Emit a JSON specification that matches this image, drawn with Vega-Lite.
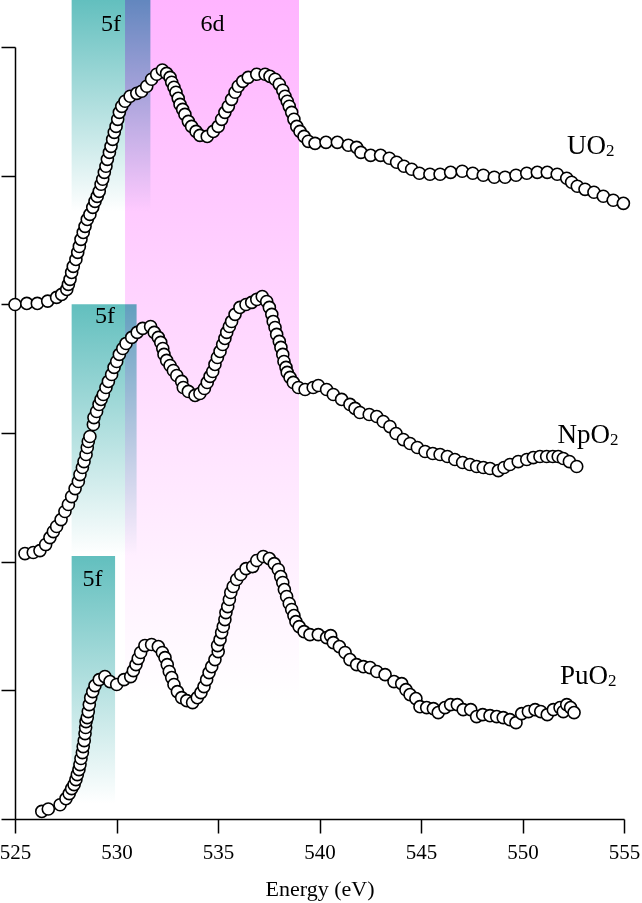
{
"$schema":"https://vega.github.io/schema/vega-lite/v6.json",
"width":609,"height":772,
"autosize":{"type":"none"},
"padding":{"left":15,"top":47,"right":18,"bottom":84},
"config":{"view":{"stroke":null},"font":"Liberation Serif"},
"datasets":{
"spec":[
{"s":"UO2","e":525.00,"i":3.999},{"s":"UO2","e":525.58,"i":4.007},{"s":"UO2","e":526.10,"i":4.007},{"s":"UO2","e":526.61,"i":4.025},{"s":"UO2","e":527.05,"i":4.054},{"s":"UO2","e":527.30,"i":4.077},{"s":"UO2","e":527.55,"i":4.116},{"s":"UO2","e":527.63,"i":4.155},{"s":"UO2","e":527.71,"i":4.194},{"s":"UO2","e":527.79,"i":4.248},{"s":"UO2","e":527.87,"i":4.295},{"s":"UO2","e":528.00,"i":4.349},{"s":"UO2","e":528.09,"i":4.404},{"s":"UO2","e":528.17,"i":4.450},{"s":"UO2","e":528.25,"i":4.505},{"s":"UO2","e":528.36,"i":4.559},{"s":"UO2","e":528.45,"i":4.606},{"s":"UO2","e":528.56,"i":4.660},{"s":"UO2","e":528.69,"i":4.699},{"s":"UO2","e":528.83,"i":4.754},{"s":"UO2","e":528.94,"i":4.800},{"s":"UO2","e":529.05,"i":4.839},{"s":"UO2","e":529.15,"i":4.878},{"s":"UO2","e":529.24,"i":4.933},{"s":"UO2","e":529.32,"i":4.972},{"s":"UO2","e":529.40,"i":5.026},{"s":"UO2","e":529.48,"i":5.073},{"s":"UO2","e":529.55,"i":5.127},{"s":"UO2","e":529.65,"i":5.181},{"s":"UO2","e":529.73,"i":5.228},{"s":"UO2","e":529.81,"i":5.282},{"s":"UO2","e":529.89,"i":5.337},{"s":"UO2","e":529.98,"i":5.383},{"s":"UO2","e":530.06,"i":5.438},{"s":"UO2","e":530.14,"i":5.492},{"s":"UO2","e":530.26,"i":5.539},{"s":"UO2","e":530.42,"i":5.578},{"s":"UO2","e":530.67,"i":5.617},{"s":"UO2","e":531.00,"i":5.640},{"s":"UO2","e":531.24,"i":5.656},{"s":"UO2","e":531.49,"i":5.695},{"s":"UO2","e":531.73,"i":5.749},{"s":"UO2","e":531.98,"i":5.788},{"s":"UO2","e":532.26,"i":5.821},{"s":"UO2","e":532.47,"i":5.795},{"s":"UO2","e":532.64,"i":5.764},{"s":"UO2","e":532.72,"i":5.726},{"s":"UO2","e":532.83,"i":5.687},{"s":"UO2","e":532.93,"i":5.648},{"s":"UO2","e":533.04,"i":5.601},{"s":"UO2","e":533.13,"i":5.554},{"s":"UO2","e":533.26,"i":5.515},{"s":"UO2","e":533.37,"i":5.476},{"s":"UO2","e":533.54,"i":5.422},{"s":"UO2","e":533.70,"i":5.383},{"s":"UO2","e":533.92,"i":5.344},{"s":"UO2","e":534.11,"i":5.313},{"s":"UO2","e":534.47,"i":5.305},{"s":"UO2","e":534.77,"i":5.344},{"s":"UO2","e":535.01,"i":5.383},{"s":"UO2","e":535.18,"i":5.438},{"s":"UO2","e":535.34,"i":5.492},{"s":"UO2","e":535.51,"i":5.539},{"s":"UO2","e":535.67,"i":5.593},{"s":"UO2","e":535.84,"i":5.648},{"s":"UO2","e":536.00,"i":5.695},{"s":"UO2","e":536.22,"i":5.733},{"s":"UO2","e":536.49,"i":5.764},{"s":"UO2","e":536.91,"i":5.788},{"s":"UO2","e":537.32,"i":5.788},{"s":"UO2","e":537.56,"i":5.772},{"s":"UO2","e":537.81,"i":5.749},{"s":"UO2","e":538.02,"i":5.710},{"s":"UO2","e":538.19,"i":5.664},{"s":"UO2","e":538.30,"i":5.617},{"s":"UO2","e":538.41,"i":5.578},{"s":"UO2","e":538.51,"i":5.539},{"s":"UO2","e":538.63,"i":5.492},{"s":"UO2","e":538.74,"i":5.438},{"s":"UO2","e":538.88,"i":5.383},{"s":"UO2","e":539.04,"i":5.344},{"s":"UO2","e":539.24,"i":5.305},{"s":"UO2","e":539.45,"i":5.267},{"s":"UO2","e":539.78,"i":5.251},{"s":"UO2","e":540.32,"i":5.259},{"s":"UO2","e":540.88,"i":5.259},{"s":"UO2","e":541.42,"i":5.236},{"s":"UO2","e":541.83,"i":5.220},{"s":"UO2","e":542.04,"i":5.181},{"s":"UO2","e":542.52,"i":5.158},{"s":"UO2","e":543.01,"i":5.158},{"s":"UO2","e":543.44,"i":5.135},{"s":"UO2","e":543.80,"i":5.104},{"s":"UO2","e":544.16,"i":5.073},{"s":"UO2","e":544.54,"i":5.050},{"s":"UO2","e":544.92,"i":5.019},{"s":"UO2","e":545.44,"i":5.011},{"s":"UO2","e":545.94,"i":5.011},{"s":"UO2","e":546.46,"i":5.026},{"s":"UO2","e":547.03,"i":5.034},{"s":"UO2","e":547.55,"i":5.019},{"s":"UO2","e":548.07,"i":5.003},{"s":"UO2","e":548.61,"i":4.988},{"s":"UO2","e":549.14,"i":4.988},{"s":"UO2","e":549.68,"i":5.003},{"s":"UO2","e":550.21,"i":5.019},{"s":"UO2","e":550.73,"i":5.026},{"s":"UO2","e":551.22,"i":5.026},{"s":"UO2","e":551.71,"i":5.011},{"s":"UO2","e":552.18,"i":4.980},{"s":"UO2","e":552.42,"i":4.949},{"s":"UO2","e":552.70,"i":4.918},{"s":"UO2","e":553.08,"i":4.894},{"s":"UO2","e":553.52,"i":4.871},{"s":"UO2","e":553.98,"i":4.840},{"s":"UO2","e":554.47,"i":4.809},{"s":"UO2","e":554.97,"i":4.785},
{"s":"NpO2","e":525.49,"i":2.063},{"s":"NpO2","e":525.90,"i":2.071},{"s":"NpO2","e":526.23,"i":2.086},{"s":"NpO2","e":526.51,"i":2.133},{"s":"NpO2","e":526.72,"i":2.187},{"s":"NpO2","e":526.89,"i":2.234},{"s":"NpO2","e":527.05,"i":2.273},{"s":"NpO2","e":527.27,"i":2.327},{"s":"NpO2","e":527.46,"i":2.390},{"s":"NpO2","e":527.63,"i":2.444},{"s":"NpO2","e":527.79,"i":2.506},{"s":"NpO2","e":527.96,"i":2.568},{"s":"NpO2","e":528.12,"i":2.623},{"s":"NpO2","e":528.20,"i":2.677},{"s":"NpO2","e":528.32,"i":2.732},{"s":"NpO2","e":528.40,"i":2.778},{"s":"NpO2","e":528.50,"i":2.833},{"s":"NpO2","e":528.56,"i":2.887},{"s":"NpO2","e":528.61,"i":2.934},{"s":"NpO2","e":528.69,"i":2.973},{"s":"NpO2","e":528.86,"i":3.066},{"s":"NpO2","e":528.89,"i":3.120},{"s":"NpO2","e":529.02,"i":3.167},{"s":"NpO2","e":529.14,"i":3.222},{"s":"NpO2","e":529.24,"i":3.261},{"s":"NpO2","e":529.35,"i":3.299},{"s":"NpO2","e":529.48,"i":3.354},{"s":"NpO2","e":529.60,"i":3.401},{"s":"NpO2","e":529.76,"i":3.455},{"s":"NpO2","e":529.88,"i":3.510},{"s":"NpO2","e":530.01,"i":3.556},{"s":"NpO2","e":530.14,"i":3.611},{"s":"NpO2","e":530.31,"i":3.657},{"s":"NpO2","e":530.47,"i":3.696},{"s":"NpO2","e":530.75,"i":3.743},{"s":"NpO2","e":531.02,"i":3.782},{"s":"NpO2","e":531.29,"i":3.813},{"s":"NpO2","e":531.68,"i":3.828},{"s":"NpO2","e":531.86,"i":3.782},{"s":"NpO2","e":532.06,"i":3.743},{"s":"NpO2","e":532.18,"i":3.704},{"s":"NpO2","e":532.28,"i":3.657},{"s":"NpO2","e":532.34,"i":3.611},{"s":"NpO2","e":532.47,"i":3.564},{"s":"NpO2","e":532.64,"i":3.525},{"s":"NpO2","e":532.80,"i":3.486},{"s":"NpO2","e":532.97,"i":3.447},{"s":"NpO2","e":533.21,"i":3.401},{"s":"NpO2","e":533.29,"i":3.354},{"s":"NpO2","e":533.54,"i":3.323},{"s":"NpO2","e":533.87,"i":3.292},{"s":"NpO2","e":534.11,"i":3.307},{"s":"NpO2","e":534.33,"i":3.346},{"s":"NpO2","e":534.47,"i":3.393},{"s":"NpO2","e":534.61,"i":3.440},{"s":"NpO2","e":534.74,"i":3.478},{"s":"NpO2","e":534.85,"i":3.533},{"s":"NpO2","e":534.97,"i":3.587},{"s":"NpO2","e":535.10,"i":3.634},{"s":"NpO2","e":535.23,"i":3.688},{"s":"NpO2","e":535.34,"i":3.735},{"s":"NpO2","e":535.43,"i":3.782},{"s":"NpO2","e":535.56,"i":3.828},{"s":"NpO2","e":535.67,"i":3.867},{"s":"NpO2","e":535.84,"i":3.922},{"s":"NpO2","e":536.08,"i":3.976},{"s":"NpO2","e":536.38,"i":3.999},{"s":"NpO2","e":536.66,"i":4.015},{"s":"NpO2","e":536.91,"i":4.038},{"s":"NpO2","e":537.18,"i":4.061},{"s":"NpO2","e":537.40,"i":4.022},{"s":"NpO2","e":537.53,"i":3.976},{"s":"NpO2","e":537.65,"i":3.922},{"s":"NpO2","e":537.72,"i":3.867},{"s":"NpO2","e":537.81,"i":3.820},{"s":"NpO2","e":537.89,"i":3.766},{"s":"NpO2","e":538.02,"i":3.712},{"s":"NpO2","e":538.10,"i":3.665},{"s":"NpO2","e":538.19,"i":3.611},{"s":"NpO2","e":538.25,"i":3.556},{"s":"NpO2","e":538.35,"i":3.510},{"s":"NpO2","e":538.41,"i":3.471},{"s":"NpO2","e":538.55,"i":3.432},{"s":"NpO2","e":538.71,"i":3.393},{"s":"NpO2","e":538.96,"i":3.354},{"s":"NpO2","e":539.29,"i":3.338},{"s":"NpO2","e":539.69,"i":3.354},{"s":"NpO2","e":539.94,"i":3.369},{"s":"NpO2","e":540.35,"i":3.338},{"s":"NpO2","e":540.68,"i":3.299},{"s":"NpO2","e":541.09,"i":3.261},{"s":"NpO2","e":541.50,"i":3.222},{"s":"NpO2","e":541.75,"i":3.191},{"s":"NpO2","e":541.99,"i":3.159},{"s":"NpO2","e":542.45,"i":3.144},{"s":"NpO2","e":542.82,"i":3.128},{"s":"NpO2","e":543.14,"i":3.089},{"s":"NpO2","e":543.47,"i":3.050},{"s":"NpO2","e":543.77,"i":2.996},{"s":"NpO2","e":544.13,"i":2.949},{"s":"NpO2","e":544.46,"i":2.918},{"s":"NpO2","e":544.82,"i":2.887},{"s":"NpO2","e":545.20,"i":2.856},{"s":"NpO2","e":545.58,"i":2.841},{"s":"NpO2","e":545.94,"i":2.833},{"s":"NpO2","e":546.30,"i":2.817},{"s":"NpO2","e":546.67,"i":2.794},{"s":"NpO2","e":547.05,"i":2.771},{"s":"NpO2","e":547.41,"i":2.755},{"s":"NpO2","e":547.74,"i":2.740},{"s":"NpO2","e":548.07,"i":2.732},{"s":"NpO2","e":548.40,"i":2.724},{"s":"NpO2","e":548.81,"i":2.708},{"s":"NpO2","e":549.09,"i":2.732},{"s":"NpO2","e":549.38,"i":2.755},{"s":"NpO2","e":549.79,"i":2.778},{"s":"NpO2","e":550.21,"i":2.794},{"s":"NpO2","e":550.53,"i":2.809},{"s":"NpO2","e":550.86,"i":2.817},{"s":"NpO2","e":551.19,"i":2.817},{"s":"NpO2","e":551.49,"i":2.817},{"s":"NpO2","e":551.76,"i":2.817},{"s":"NpO2","e":552.01,"i":2.802},{"s":"NpO2","e":552.31,"i":2.778},{"s":"NpO2","e":552.67,"i":2.740},
{"s":"PuO2","e":526.32,"i":0.059},{"s":"PuO2","e":526.64,"i":0.078},{"s":"PuO2","e":527.22,"i":0.111},{"s":"PuO2","e":527.51,"i":0.158},{"s":"PuO2","e":527.67,"i":0.197},{"s":"PuO2","e":527.79,"i":0.236},{"s":"PuO2","e":527.91,"i":0.267},{"s":"PuO2","e":528.00,"i":0.306},{"s":"PuO2","e":528.07,"i":0.345},{"s":"PuO2","e":528.15,"i":0.384},{"s":"PuO2","e":528.20,"i":0.423},{"s":"PuO2","e":528.25,"i":0.470},{"s":"PuO2","e":528.32,"i":0.516},{"s":"PuO2","e":528.36,"i":0.563},{"s":"PuO2","e":528.41,"i":0.609},{"s":"PuO2","e":528.45,"i":0.664},{"s":"PuO2","e":528.48,"i":0.711},{"s":"PuO2","e":528.50,"i":0.757},{"s":"PuO2","e":528.56,"i":0.788},{"s":"PuO2","e":528.61,"i":0.835},{"s":"PuO2","e":528.66,"i":0.889},{"s":"PuO2","e":528.73,"i":0.943},{"s":"PuO2","e":528.83,"i":0.990},{"s":"PuO2","e":528.94,"i":1.037},{"s":"PuO2","e":529.15,"i":1.083},{"s":"PuO2","e":529.43,"i":1.107},{"s":"PuO2","e":529.68,"i":1.068},{"s":"PuO2","e":530.01,"i":1.045},{"s":"PuO2","e":530.37,"i":1.083},{"s":"PuO2","e":530.70,"i":1.107},{"s":"PuO2","e":530.83,"i":1.153},{"s":"PuO2","e":530.96,"i":1.200},{"s":"PuO2","e":531.07,"i":1.247},{"s":"PuO2","e":531.19,"i":1.294},{"s":"PuO2","e":531.40,"i":1.348},{"s":"PuO2","e":531.73,"i":1.356},{"s":"PuO2","e":532.06,"i":1.340},{"s":"PuO2","e":532.26,"i":1.294},{"s":"PuO2","e":532.39,"i":1.254},{"s":"PuO2","e":532.50,"i":1.200},{"s":"PuO2","e":532.60,"i":1.146},{"s":"PuO2","e":532.72,"i":1.099},{"s":"PuO2","e":532.83,"i":1.045},{"s":"PuO2","e":533.00,"i":0.990},{"s":"PuO2","e":533.21,"i":0.943},{"s":"PuO2","e":533.46,"i":0.920},{"s":"PuO2","e":533.75,"i":0.905},{"s":"PuO2","e":533.98,"i":0.943},{"s":"PuO2","e":534.16,"i":0.982},{"s":"PuO2","e":534.31,"i":1.029},{"s":"PuO2","e":534.44,"i":1.083},{"s":"PuO2","e":534.56,"i":1.138},{"s":"PuO2","e":534.69,"i":1.184},{"s":"PuO2","e":534.85,"i":1.239},{"s":"PuO2","e":535.01,"i":1.301},{"s":"PuO2","e":534.98,"i":1.348},{"s":"PuO2","e":535.10,"i":1.394},{"s":"PuO2","e":535.18,"i":1.449},{"s":"PuO2","e":535.26,"i":1.496},{"s":"PuO2","e":535.34,"i":1.550},{"s":"PuO2","e":535.39,"i":1.604},{"s":"PuO2","e":535.48,"i":1.651},{"s":"PuO2","e":535.56,"i":1.706},{"s":"PuO2","e":535.63,"i":1.760},{"s":"PuO2","e":535.75,"i":1.807},{"s":"PuO2","e":535.92,"i":1.861},{"s":"PuO2","e":536.12,"i":1.900},{"s":"PuO2","e":536.38,"i":1.946},{"s":"PuO2","e":536.71,"i":1.962},{"s":"PuO2","e":536.91,"i":2.009},{"s":"PuO2","e":537.23,"i":2.040},{"s":"PuO2","e":537.53,"i":2.024},{"s":"PuO2","e":537.77,"i":1.985},{"s":"PuO2","e":537.97,"i":1.939},{"s":"PuO2","e":538.09,"i":1.884},{"s":"PuO2","e":538.19,"i":1.838},{"s":"PuO2","e":538.27,"i":1.783},{"s":"PuO2","e":538.38,"i":1.729},{"s":"PuO2","e":538.51,"i":1.675},{"s":"PuO2","e":538.63,"i":1.628},{"s":"PuO2","e":538.74,"i":1.581},{"s":"PuO2","e":538.84,"i":1.534},{"s":"PuO2","e":539.00,"i":1.495},{"s":"PuO2","e":539.24,"i":1.456},{"s":"PuO2","e":539.53,"i":1.433},{"s":"PuO2","e":539.94,"i":1.433},{"s":"PuO2","e":540.35,"i":1.410},{"s":"PuO2","e":540.55,"i":1.425},{"s":"PuO2","e":540.68,"i":1.371},{"s":"PuO2","e":540.98,"i":1.340},{"s":"PuO2","e":541.26,"i":1.294},{"s":"PuO2","e":541.50,"i":1.239},{"s":"PuO2","e":541.83,"i":1.200},{"s":"PuO2","e":542.16,"i":1.184},{"s":"PuO2","e":542.49,"i":1.177},{"s":"PuO2","e":542.82,"i":1.146},{"s":"PuO2","e":543.23,"i":1.122},{"s":"PuO2","e":543.67,"i":1.068},{"s":"PuO2","e":544.05,"i":1.052},{"s":"PuO2","e":544.26,"i":1.005},{"s":"PuO2","e":544.46,"i":0.967},{"s":"PuO2","e":544.75,"i":0.936},{"s":"PuO2","e":544.95,"i":0.873},{"s":"PuO2","e":545.28,"i":0.866},{"s":"PuO2","e":545.61,"i":0.858},{"s":"PuO2","e":545.85,"i":0.827},{"s":"PuO2","e":546.18,"i":0.866},{"s":"PuO2","e":546.46,"i":0.889},{"s":"PuO2","e":546.79,"i":0.889},{"s":"PuO2","e":547.08,"i":0.850},{"s":"PuO2","e":547.45,"i":0.850},{"s":"PuO2","e":547.74,"i":0.796},{"s":"PuO2","e":548.04,"i":0.811},{"s":"PuO2","e":548.40,"i":0.803},{"s":"PuO2","e":548.73,"i":0.796},{"s":"PuO2","e":549.05,"i":0.788},{"s":"PuO2","e":549.38,"i":0.772},{"s":"PuO2","e":549.68,"i":0.749},{"s":"PuO2","e":549.96,"i":0.819},{"s":"PuO2","e":550.29,"i":0.835},{"s":"PuO2","e":550.62,"i":0.850},{"s":"PuO2","e":550.90,"i":0.835},{"s":"PuO2","e":551.22,"i":0.811},{"s":"PuO2","e":551.52,"i":0.850},{"s":"PuO2","e":551.85,"i":0.866},{"s":"PuO2","e":552.01,"i":0.835},{"s":"PuO2","e":552.18,"i":0.889},{"s":"PuO2","e":552.37,"i":0.866},{"s":"PuO2","e":552.54,"i":0.827}
],
"d6":[{"e1":530.42,"e2":538.99,"y1":6.37,"y2":0.9}],
"f5":[{"e1":527.79,"e2":531.67,"y1":6.37,"y2":4.72},{"e1":527.79,"e2":530.99,"y1":4.0,"y2":2.05},{"e1":527.79,"e2":529.93,"y1":2.045,"y2":0.12}],
"bandlab":[{"e":529.73,"y":6.176,"t":"5f"},{"e":534.73,"y":6.176,"t":"6d"},{"e":529.43,"y":3.908,"t":"5f"},{"e":528.82,"y":1.869,"t":"5f"}],
"samplab":[{"e":554.11,"y":5.166,"m":"UO","sub":"2"},{"e":554.31,"y":2.926,"m":"NpO","sub":"2"},{"e":554.21,"y":1.052,"m":"PuO","sub":"2"}]
},
"layer":[
{"data":{"name":"d6"},
 "mark":{"type":"rect","fill":{"gradient":"linear","x1":0,"y1":0,"x2":0,"y2":1,"stops":[{"offset":0,"color":"#ffb4ff"},{"offset":1,"color":"#ffffff"}]}},
 "encoding":{"x":{"field":"e1","type":"quantitative","scale":{"domain":[525,555],"nice":false,"zero":false},
   "axis":{"values":[525,530,535,540,545,550,555],"title":"Energy (eV)","grid":false,"domainColor":"black","domainWidth":1.5,"tickColor":"black","tickWidth":1.5,"tickSize":14,"labelFont":"Liberation Serif","labelFontSize":21,"labelColor":"black","labelPadding":8,"labelFlush":false,"titleFont":"Liberation Serif","titleFontSize":22,"titleFontWeight":"normal","titleColor":"black","titlePadding":16}},
  "x2":{"field":"e2"},
  "y":{"field":"y1","type":"quantitative","scale":{"domain":[0,6],"nice":false,"zero":false},
   "axis":{"values":[0,1,2,3,4,5,6],"labels":false,"title":null,"grid":false,"domainColor":"black","domainWidth":1.5,"tickColor":"black","tickWidth":1.5,"tickSize":14}},
  "y2":{"field":"y2"}}},
{"data":{"name":"f5"},
 "mark":{"type":"rect","blend":"multiply","fill":{"gradient":"linear","x1":0,"y1":0,"x2":0,"y2":1,"stops":[{"offset":0,"color":"#62bfbe"},{"offset":1,"color":"#ffffff"}]}},
 "encoding":{"x":{"field":"e1","type":"quantitative"},"x2":{"field":"e2"},"y":{"field":"y1","type":"quantitative"},"y2":{"field":"y2"}}},
{"data":{"name":"bandlab"},
 "mark":{"type":"text","font":"Liberation Serif","fontSize":24,"color":"black","align":"center","baseline":"middle"},
 "encoding":{"x":{"field":"e","type":"quantitative"},"y":{"field":"y","type":"quantitative"},"text":{"field":"t"}}},
{"data":{"name":"spec"},
 "mark":{"type":"circle","fill":"white","stroke":"black","strokeWidth":1.6,"size":145,"opacity":1},
 "encoding":{"x":{"field":"e","type":"quantitative"},"y":{"field":"i","type":"quantitative"},"detail":{"field":"s"}}},
{"data":{"name":"samplab"},
 "mark":{"type":"text","font":"Liberation Serif","fontSize":27,"color":"black","align":"right","baseline":"alphabetic"},
 "encoding":{"x":{"field":"e","type":"quantitative"},"y":{"field":"y","type":"quantitative"},"text":{"field":"m"}}},
{"data":{"name":"samplab"},
 "mark":{"type":"text","font":"Liberation Serif","fontSize":17,"color":"black","align":"left","baseline":"alphabetic","dy":2},
 "encoding":{"x":{"field":"e","type":"quantitative"},"y":{"field":"y","type":"quantitative"},"text":{"field":"sub"}}}
]
}
